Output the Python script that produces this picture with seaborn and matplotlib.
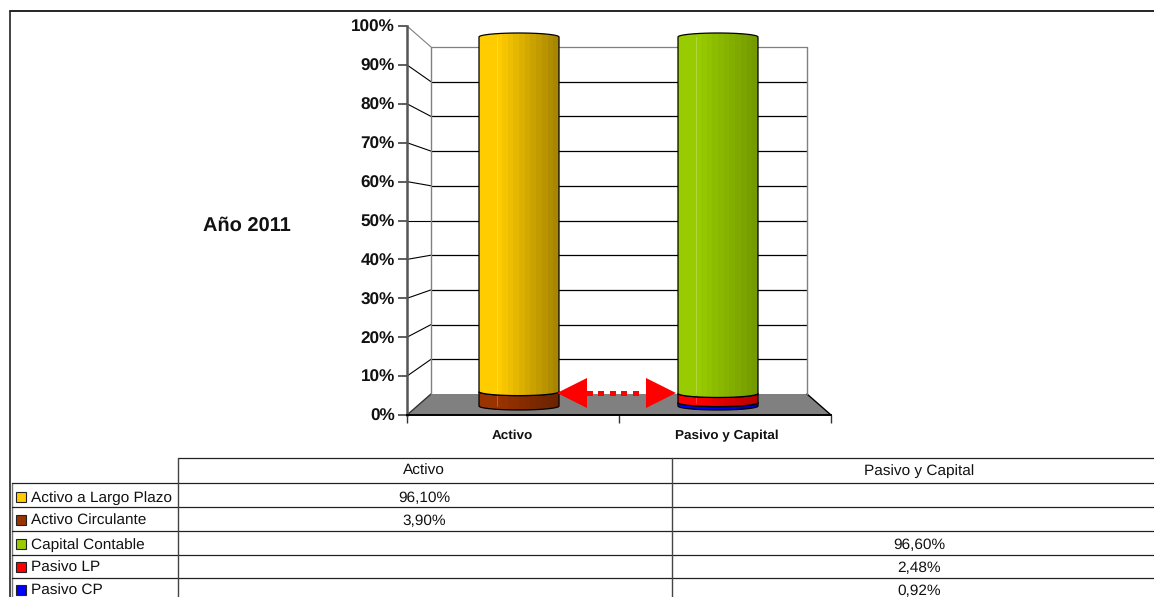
import numpy as np
import pandas as pd
import matplotlib
matplotlib.use("Agg")
import matplotlib.pyplot as plt
from matplotlib.colors import to_rgb
from matplotlib.patches import Polygon, Rectangle
import seaborn as sns

# Balance sheet structure, in percent of the total
categories = ["Activo", "Pasivo y Capital"]
series_names = ["Activo Circulante", "Activo a Largo Plazo", "Pasivo CP", "Pasivo LP", "Capital Contable"]
series_category = ["Activo", "Activo", "Pasivo y Capital", "Pasivo y Capital", "Pasivo y Capital"]
series_values = [3.90, 96.10, 0.92, 2.48, 96.60]
series_colors = ["#993300", "#FFCC00", "#0000FF", "#FF0000", "#99CC00"]
series_shade_floor = [0.70, 0.66, 0.75, 0.72, 0.76]
table_order = ["Activo a Largo Plazo", "Activo Circulante", "Capital Contable", "Pasivo LP", "Pasivo CP"]
y_ticks = [0, 10, 20, 30, 40, 50, 60, 70, 80, 90, 100]
title_text = "Año 2011"

W, H = 1154, 597
sns.set_theme(style="white")
plt.rcParams["font.family"] = ["Liberation Sans", "DejaVu Sans"]
plt.rcParams["text.hinting"] = "none"
plt.rcParams["text.hinting_factor"] = 8

fig = plt.figure(figsize=(W / 100, H / 100), dpi=100, facecolor="white")


def axes_px(x0, y_top, x1, y_bottom, z):
    """Add axes placed by pixel edges, measured from the top-left corner."""
    a = fig.add_axes([x0 / W, 1 - y_bottom / H, (x1 - x0) / W, (y_bottom - y_top) / H], zorder=z)
    a.patch.set_alpha(0)
    return a


# Overlay in pixel units for the frame, the table and the perspective helpers
back = axes_px(0, 0, W, H, 0)
back.set_xlim(0, W)
back.set_ylim(H, 0)
back.axis("off")

top = axes_px(0, 0, W, H, 5)
top.set_xlim(0, W)
top.set_ylim(H, 0)
top.axis("off")

# Outer frame
back.plot([10, W], [11, 11], color="black", lw=1.2)
back.plot([10, 10], [11, H], color="#222222", lw=1.2)
back.plot([12, 12], [483, H], color="#777777", lw=1.0)

# Front value axis
FRONT_X0, FRONT_X1, FRONT_Y0, FRONT_Y100 = 407, 831, 415, 26
WALL_X0, WALL_X1, WALL_Y0, WALL_Y100 = 431, 807, 394, 47
front = axes_px(FRONT_X0, FRONT_Y100, FRONT_X1, FRONT_Y0, 2)
front.set_ylim(0, 100)
front.set_xlim(0, 2)
front.set_yticks(y_ticks)
front.set_yticklabels([f"{t}%" for t in y_ticks], fontweight="bold", fontsize=12.3, color="#111111")
front.tick_params(axis="y", left=True, length=6.2, width=1.1, color="#333333", pad=2.5)
front.set_xticks([0, 1, 2])
front.set_xticklabels([])
front.tick_params(axis="x", bottom=True, length=5.8, width=1.0, color="#333333")
for side in ["top", "right"]:
    front.spines[side].set_visible(False)
front.spines["left"].set_color("#555555")
front.spines["left"].set_linewidth(1.8)
front.spines["bottom"].set_color("black")
front.spines["bottom"].set_linewidth(1.4)

# Back wall, floor and the side grid lines
floor = Polygon([(FRONT_X0, FRONT_Y0), (FRONT_X1, FRONT_Y0), (WALL_X1, WALL_Y0), (WALL_X0, WALL_Y0)],
                closed=True, facecolor="#808080", edgecolor="none")
back.add_patch(floor)
back.plot([FRONT_X1, WALL_X1], [FRONT_Y0, WALL_Y0], color="black", lw=1.0)
back.plot([FRONT_X0, WALL_X0], [FRONT_Y0, WALL_Y0], color="#333333", lw=1.0)
for t in y_ticks[1:]:
    yf = FRONT_Y0 + (FRONT_Y100 - FRONT_Y0) * t / 100
    yw = WALL_Y0 + (WALL_Y100 - WALL_Y0) * t / 100
    col = "#808080" if t == 100 else "black"
    back.plot([FRONT_X0, WALL_X0], [yf, yw], color=col, lw=0.8)
    back.plot([WALL_X0, WALL_X1], [yw, yw], color=col, lw=0.9)
back.plot([WALL_X0, WALL_X0], [WALL_Y0, WALL_Y100], color="#808080", lw=1.0)
back.plot([WALL_X1, WALL_X1], [WALL_Y0, WALL_Y100], color="#808080", lw=1.0)

# Category labels under the floor and the chart heading
for xpos, label in zip([512.5, 727], categories):
    back.text(xpos, 439, label, ha="center", va="baseline", fontweight="bold", fontsize=9.7, color="#111111")
back.text(247, 231, title_text, ha="center", va="baseline", fontweight="bold", fontsize=14.4, color="#111111")

# Cylinders: stacked seaborn bars in their own depth plane, with head room for the curved caps
PX_PER_UNIT = 3.69
ROOM = 3.0
bars = axes_px(419.5, 37 - ROOM * PX_PER_UNIT, 817.5, 406 + ROOM * PX_PER_UNIT, 3)
frame = pd.DataFrame({"name": series_names, "cat": series_category, "value": series_values,
                      "color": series_colors, "floor": series_shade_floor})
BAR_WIDTH = 80 / 199
CURVE = 4 / PX_PER_UNIT
segments = []
for cat in categories:
    base = 0.0
    rows = frame[frame["cat"] == cat]
    for level, row in enumerate(rows.itertuples()):
        n_before = len(bars.patches)
        sns.barplot(x=[row.cat], y=[row.value], order=categories, color=row.color, saturation=1,
                    width=BAR_WIDTH, bottom=base, ax=bars, zorder=2 + level, linewidth=0)
        segments.append((bars.patches[n_before], row.color, row.floor, level, level == len(rows) - 1))
        base += row.value

# Stepped horizontal shading of a cylinder body
shade_pos = np.linspace(0, 1, 14)
theta = np.linspace(0, np.pi, 60)
for rect, color, shade_floor, level, is_top in segments:
    x0, w = rect.get_x(), rect.get_width()
    y0, h = rect.get_y(), rect.get_height()
    rect.set_edgecolor("none")
    ux = x0 + w * (1 - np.cos(theta)) / 2
    lower = y0 - CURVE * np.sin(theta)
    upper = y0 + h + (CURVE if is_top else -CURVE) * np.sin(theta)
    outline = np.vstack([np.column_stack([ux, lower]), np.column_stack([ux[::-1], upper[::-1]])])
    shade = np.where(shade_pos < 0.23, 1.0, 1.0 - (1 - shade_floor) * (shade_pos - 0.23) / 0.77)
    gradient = np.array(to_rgb(color))[None, None, :] * shade[None, :, None]
    img = bars.imshow(gradient, extent=(x0, x0 + w, y0 - 2, y0 + h + 2), aspect="auto",
                      interpolation="nearest", zorder=2 + level + 0.1)
    clip = Polygon(outline, closed=True, transform=bars.transData, facecolor="none", edgecolor="none")
    bars.add_patch(clip)
    img.set_clip_path(clip)
    rect.set_visible(False)
    edge = Polygon(outline, closed=True, facecolor="none", edgecolor="black", lw=0.9, zorder=2 + level + 0.2)
    bars.add_patch(edge)
    bars.plot([x0 + 0.23 * w] * 2, [y0, y0 + h], color="white", alpha=0.25, lw=0.7, zorder=2 + level + 0.15)
bars.set_xlim(-0.5, 1.5)
bars.set_ylim(-ROOM, 100 + ROOM)
bars.axis("off")

# Double arrow linking both cylinders at the base
top.add_patch(Polygon([(557, 393), (587, 378), (587, 408)], closed=True, facecolor="#FF0000", edgecolor="none"))
top.add_patch(Polygon([(676, 393), (646, 378), (646, 408)], closed=True, facecolor="#FF0000", edgecolor="none"))
for dash_x in [587, 598, 610, 621, 633]:
    top.add_patch(Rectangle((dash_x, 390.5), 6, 5, facecolor="#FF0000", edgecolor="none"))

# Data table below the chart
row_lines = [458, 483, 507, 531, 555, 578]
row_baselines = [502, 525, 549, 572, 595]
COL0, COL1, COL2 = 178, 672, W
line_c = "#222222"
back.plot([COL0, COL2], [row_lines[0]] * 2, color=line_c, lw=0.9)
for y in row_lines[1:]:
    back.plot([12, COL2], [y, y], color=line_c, lw=0.9)
back.plot([COL0, COL0], [row_lines[0], H], color="#444444", lw=1.0)
back.plot([COL1, COL1], [row_lines[0], H], color="#444444", lw=1.0)

FS = 11.1
back.text(424, 475, categories[0], ha="center", va="baseline", fontsize=FS, color="#111111")
back.text(919, 475, categories[1], ha="center", va="baseline", fontsize=FS, color="#111111")
for name, yb in zip(table_order, row_baselines):
    row = frame[frame["name"] == name].iloc[0]
    back.add_patch(Rectangle((16, yb - 10), 10, 10, facecolor=row["color"], edgecolor="#222222", lw=0.8))
    back.text(31, yb, name, ha="left", va="baseline", fontsize=FS, color="#111111")
    label = f"{row['value']:.2f}%".replace(".", ",")
    xc = 424 if row["cat"] == categories[0] else 919
    back.text(xc, yb, label, ha="center", va="baseline", fontsize=FS, color="#111111")

fig.savefig("out.png", dpi=100, facecolor="white")
